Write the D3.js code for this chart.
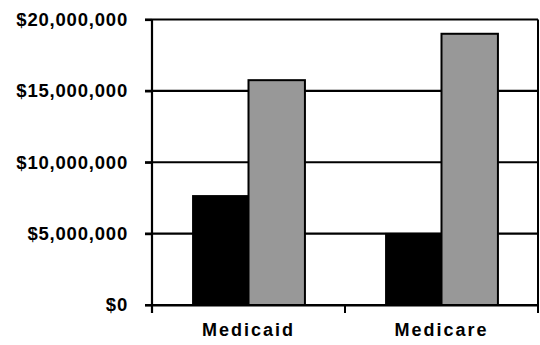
<!DOCTYPE html>
<html><head><meta charset="utf-8">
<script src="https://cdn.jsdelivr.net/npm/d3@7"></script>
<style>body{margin:0;background:#fff}svg{display:block}</style>
</head><body>
<script>
const categories = ["Medicaid", "Medicare"];
const seriesNames = ["Series A", "Series B"];
const seriesA = [7700000, 5050000];
const seriesB = [15750000, 19000000];
const yTicks = [0, 5000000, 10000000, 15000000, 20000000];

const W = 540, H = 345;
const m = {left: 152, right: 2, top: 19.5, bottom: 40};
const svg = d3.select("body").append("svg").attr("width", W).attr("height", H);

const x = d3.scaleBand().domain(categories).range([m.left, W - m.right]).paddingInner(0).paddingOuter(0);
const x1 = d3.scaleBand().domain(seriesNames).range([0, x.bandwidth()]).paddingInner(0).paddingOuter(0.71);
const y = d3.scaleLinear().domain([0, 20000000]).range([H - m.bottom, m.top]);

const fmt = v => "$" + d3.format(",")(v);

// gridlines
svg.append("g").selectAll("line").data(yTicks).join("line")
  .attr("x1", m.left - 7).attr("x2", W - m.right)
  .attr("y1", d => y(d)).attr("y2", d => y(d))
  .attr("stroke", "#000").attr("stroke-width", 2.2);

// right border
svg.append("line").attr("x1", W - m.right).attr("x2", W - m.right)
  .attr("y1", y(20000000)).attr("y2", y(0) + 8).attr("stroke", "#000").attr("stroke-width", 2);

const data = categories.map((c, i) => ({c, vals: [seriesA[i], seriesB[i]]}));
const colors = ["#000000", "#989898"];

const groups = svg.append("g").selectAll("g").data(data).join("g")
  .attr("transform", d => `translate(${x(d.c)},0)`);
groups.selectAll("rect").data(d => d.vals.map((v, j) => ({v, s: seriesNames[j], j}))).join("rect")
  .attr("x", d => x1(d.s)).attr("width", x1.bandwidth())
  .attr("y", d => y(d.v)).attr("height", d => y(0) - y(d.v))
  .attr("fill", d => colors[d.j])
  .attr("stroke", "#000").attr("stroke-width", d => d.j === 1 ? 2 : 0);

// y axis
const ya = svg.append("g").attr("transform", `translate(${m.left},0)`)
  .call(d3.axisLeft(y).tickValues(yTicks).tickFormat(fmt).tickSize(7).tickPadding(17));
ya.select(".domain").attr("stroke", "#000").attr("stroke-width", 2.2)
  .attr("d", `M0,${y(20000000)}V${y(0) + 8}`);
ya.selectAll(".tick line").attr("stroke-width", 2.2);
ya.selectAll("text").attr("font-family", "Liberation Sans, Arial, sans-serif")
  .attr("font-weight", "bold").attr("font-size", 18.5).attr("letter-spacing", 0.8).attr("fill", "#000");

// x axis
const xa = svg.append("g").attr("transform", `translate(0,${y(0)})`)
  .call(d3.axisBottom(x).tickSize(0).tickPadding(18));
xa.select(".domain").attr("stroke", "#000").attr("stroke-width", 2.2);
xa.selectAll("text").attr("font-family", "Liberation Sans, Arial, sans-serif")
  .attr("font-weight", "bold").attr("font-size", 18).attr("letter-spacing", 2).attr("fill", "#000");
// category boundary ticks
const bounds = [x(categories[0]), x(categories[1]), W - m.right];
svg.append("g").selectAll("line").data(bounds).join("line")
  .attr("x1", d => d).attr("x2", d => d).attr("y1", y(0)).attr("y2", y(0) + 8)
  .attr("stroke", "#000").attr("stroke-width", 2);
</script>
</body></html>
